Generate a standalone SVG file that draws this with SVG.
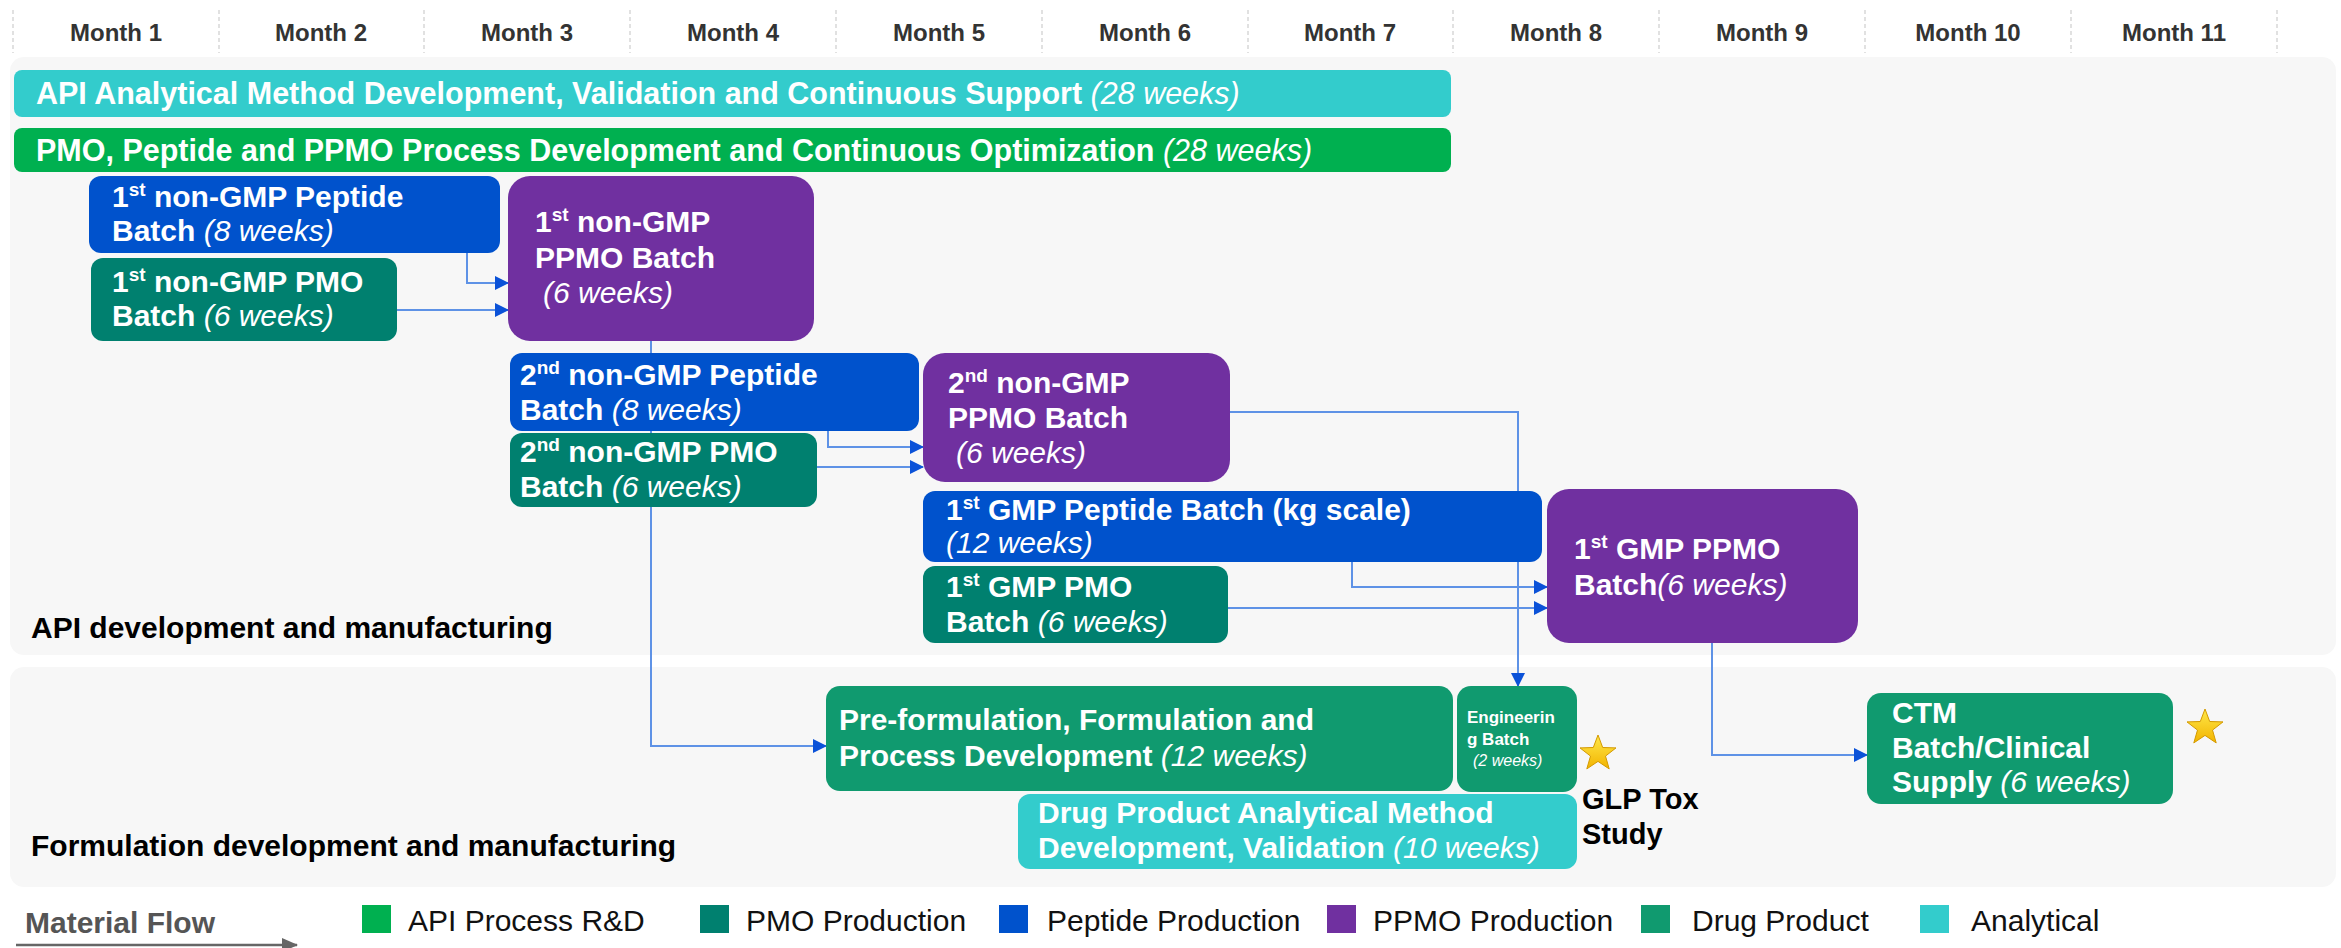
<svg xmlns="http://www.w3.org/2000/svg" width="2341" height="948" viewBox="0 0 2341 948">
<defs>
<style>
text{font-family:"Liberation Sans",Arial,sans-serif;}
.m{font-size:24px;font-weight:bold;fill:#333;text-anchor:middle;}
.sep{stroke:#d8d8d8;stroke-width:1.5;stroke-dasharray:4 3;}
.panel{fill:#f7f7f7;}
.w{fill:#fff;font-size:30px;font-weight:bold;}
.bar{font-size:30.5px;}
.it{font-style:italic;font-weight:normal;}
.sup{font-size:19px;}
.lbl{fill:#000;font-size:30px;font-weight:bold;}
.leg{fill:#111;font-size:30px;}
.pep{fill:#0052CC;}
.pmo{fill:#00806F;}
.ppmo{fill:#7030A0;}
.dp{fill:#109A6F;}
.ana{fill:#33CCCC;}
.rd{fill:#00B050;}
.c{fill:none;stroke:#5E92E6;stroke-width:2;marker-end:url(#ah);}
</style>
<marker id="ah" markerUnits="userSpaceOnUse" markerWidth="14" markerHeight="14" viewBox="0 0 14 14" refX="13" refY="7" orient="auto">
<path d="M0,0 L14,7 L0,14 Z" fill="#0B52D8"/>
</marker>
<marker id="gah" markerUnits="userSpaceOnUse" markerWidth="16" markerHeight="14" viewBox="0 0 16 14" refX="15" refY="7" orient="auto">
<path d="M0,0 L16,7 L0,14 Z" fill="#666"/>
</marker>
<linearGradient id="sg" x1="0" y1="0" x2="0" y2="1">
<stop offset="0" stop-color="#FFE84A"/>
<stop offset="1" stop-color="#F2B400"/>
</linearGradient>
</defs>
<rect width="2341" height="948" fill="#fff"/>

<g id="header">
<line class="sep" x1="13" y1="10" x2="13" y2="53"/>
<line class="sep" x1="219" y1="10" x2="219" y2="53"/>
<line class="sep" x1="424" y1="10" x2="424" y2="53"/>
<line class="sep" x1="630" y1="10" x2="630" y2="53"/>
<line class="sep" x1="836" y1="10" x2="836" y2="53"/>
<line class="sep" x1="1042" y1="10" x2="1042" y2="53"/>
<line class="sep" x1="1248" y1="10" x2="1248" y2="53"/>
<line class="sep" x1="1453" y1="10" x2="1453" y2="53"/>
<line class="sep" x1="1659" y1="10" x2="1659" y2="53"/>
<line class="sep" x1="1865" y1="10" x2="1865" y2="53"/>
<line class="sep" x1="2071" y1="10" x2="2071" y2="53"/>
<line class="sep" x1="2277" y1="10" x2="2277" y2="53"/>
<text class="m" x="116" y="41">Month 1</text>
<text class="m" x="321" y="41">Month 2</text>
<text class="m" x="527" y="41">Month 3</text>
<text class="m" x="733" y="41">Month 4</text>
<text class="m" x="939" y="41">Month 5</text>
<text class="m" x="1145" y="41">Month 6</text>
<text class="m" x="1350" y="41">Month 7</text>
<text class="m" x="1556" y="41">Month 8</text>
<text class="m" x="1762" y="41">Month 9</text>
<text class="m" x="1968" y="41">Month 10</text>
<text class="m" x="2174" y="41">Month 11</text>
</g>

<g id="panels">
<rect class="panel" x="10" y="57" width="2326" height="598" rx="14"/>
<rect class="panel" x="10" y="667" width="2326" height="220" rx="14"/>
<text class="lbl" x="31" y="638">API development and manufacturing</text>
<text class="lbl" x="31" y="856">Formulation development and manufacturing</text>
</g>

<g id="connectors">
<path class="c" d="M467,253 V283 H508"/>
<path class="c" d="M397,310 H508"/>
<path class="c" d="M651,341 V746 H826"/>
<path class="c" d="M828,431 V447 H923"/>
<path class="c" d="M817,467 H923"/>
<path class="c" d="M1230,412 H1518 V686"/>
<path class="c" d="M1352,562 V587 H1547"/>
<path class="c" d="M1228,608 H1547"/>
<path class="c" d="M1712,643 V755 H1867"/>
</g>

<g id="api-analytical">
<rect class="ana" x="14" y="70" width="1437" height="47" rx="8"/>
<text class="w bar" x="36" y="104">API Analytical Method Development, Validation and Continuous Support <tspan class="it">(28 weeks)</tspan></text>
</g>
<g id="process-dev">
<rect class="rd" x="14" y="128" width="1437" height="44" rx="8"/>
<text class="w bar" x="36" y="161">PMO, Peptide and PPMO Process Development and Continuous Optimization <tspan class="it">(28 weeks)</tspan></text>
</g>

<g id="peptide-nongmp-1">
<rect class="pep" x="89" y="176" width="411" height="77" rx="12"/>
<text class="w" x="112" y="207">1<tspan class="sup" dy="-11">st</tspan><tspan dy="11"> non-GMP Peptide</tspan></text>
<text class="w" x="112" y="241">Batch <tspan class="it">(8 weeks)</tspan></text>
</g>
<g id="pmo-nongmp-1">
<rect class="pmo" x="91" y="258" width="306" height="83" rx="12"/>
<text class="w" x="112" y="292">1<tspan class="sup" dy="-11">st</tspan><tspan dy="11"> non-GMP PMO</tspan></text>
<text class="w" x="112" y="326">Batch <tspan class="it">(6 weeks)</tspan></text>
</g>
<g id="ppmo-nongmp-1">
<rect class="ppmo" x="508" y="176" width="306" height="165" rx="22"/>
<text class="w" x="535" y="232">1<tspan class="sup" dy="-11">st</tspan><tspan dy="11"> non-GMP</tspan></text>
<text class="w" x="535" y="268">PPMO Batch</text>
<text class="w it" x="543" y="303">(6 weeks)</text>
</g>

<g id="peptide-nongmp-2">
<rect class="pep" x="510" y="353" width="409" height="78" rx="12"/>
<text class="w" x="520" y="385">2<tspan class="sup" dy="-11">nd</tspan><tspan dy="11"> non-GMP Peptide</tspan></text>
<text class="w" x="520" y="420">Batch <tspan class="it">(8 weeks)</tspan></text>
</g>
<g id="pmo-nongmp-2">
<rect class="pmo" x="510" y="433" width="307" height="74" rx="12"/>
<text class="w" x="520" y="462">2<tspan class="sup" dy="-11">nd</tspan><tspan dy="11"> non-GMP PMO</tspan></text>
<text class="w" x="520" y="497">Batch <tspan class="it">(6 weeks)</tspan></text>
</g>
<g id="ppmo-nongmp-2">
<rect class="ppmo" x="923" y="353" width="307" height="129" rx="22"/>
<text class="w" x="948" y="393">2<tspan class="sup" dy="-11">nd</tspan><tspan dy="11"> non-GMP</tspan></text>
<text class="w" x="948" y="428">PPMO Batch</text>
<text class="w it" x="956" y="463">(6 weeks)</text>
</g>

<g id="peptide-gmp-1">
<rect class="pep" x="923" y="491" width="619" height="71" rx="12"/>
<text class="w" x="946" y="520">1<tspan class="sup" dy="-11">st</tspan><tspan dy="11"> GMP Peptide Batch (kg scale)</tspan></text>
<text class="w it" x="946" y="553">(12 weeks)</text>
</g>
<g id="pmo-gmp-1">
<rect class="pmo" x="923" y="566" width="305" height="77" rx="12"/>
<text class="w" x="946" y="597">1<tspan class="sup" dy="-11">st</tspan><tspan dy="11"> GMP PMO</tspan></text>
<text class="w" x="946" y="632">Batch <tspan class="it">(6 weeks)</tspan></text>
</g>
<g id="ppmo-gmp-1">
<rect class="ppmo" x="1547" y="489" width="311" height="154" rx="22"/>
<text class="w" x="1574" y="559">1<tspan class="sup" dy="-11">st</tspan><tspan dy="11"> GMP PPMO</tspan></text>
<text class="w" x="1574" y="595">Batch<tspan class="it">(6 weeks)</tspan></text>
</g>

<g id="preformulation">
<rect class="dp" x="826" y="686" width="627" height="105" rx="14"/>
<text class="w" x="839" y="730">Pre-formulation, Formulation and</text>
<text class="w" x="839" y="766">Process Development <tspan class="it">(12 weeks)</tspan></text>
</g>
<g id="engineering-batch">
<rect class="dp" x="1457" y="686" width="120" height="106" rx="14"/>
<text class="w" x="1467" y="723" style="font-size:17px">Engineerin</text>
<text class="w" x="1467" y="745" style="font-size:17px">g Batch</text>
<text class="w it" x="1473" y="766" style="font-size:16px">(2 weeks)</text>
</g>
<g id="dp-analytical">
<rect class="ana" x="1018" y="794" width="559" height="75" rx="12"/>
<text class="w" x="1038" y="823">Drug Product Analytical Method</text>
<text class="w" x="1038" y="858">Development, Validation <tspan class="it">(10 weeks)</tspan></text>
</g>
<g id="glp-tox">
<path d="M1598,735 L1602.7,747.5 L1616,747.9 L1605.5,756.1 L1609.2,768.9 L1598,761.4 L1586.8,768.9 L1590.5,756.1 L1580,747.9 L1593.3,747.5 Z" fill="url(#sg)" stroke="#D49A00" stroke-width="1"/>
<text class="lbl" x="1582" y="809" style="font-size:29px">GLP Tox</text>
<text class="lbl" x="1582" y="844" style="font-size:29px">Study</text>
</g>
<g id="ctm">
<rect class="dp" x="1867" y="693" width="306" height="111" rx="14"/>
<text class="w" x="1892" y="723">CTM</text>
<text class="w" x="1892" y="758">Batch/Clinical</text>
<text class="w" x="1892" y="792">Supply <tspan class="it">(6 weeks)</tspan></text>
<path d="M2205,709 L2209.7,721.5 L2223,721.9 L2212.5,730.1 L2216.2,742.9 L2205,735.4 L2193.8,742.9 L2197.5,730.1 L2187,721.9 L2200.3,721.5 Z" fill="url(#sg)" stroke="#D49A00" stroke-width="1"/>
</g>

<g id="legend">
<text x="25" y="933" style="font-size:30px;font-weight:bold;fill:#555">Material Flow</text>
<line x1="16" y1="945" x2="297" y2="945" stroke="#666" stroke-width="2.5" marker-end="url(#gah)"/>
<rect class="rd" x="362" y="905" width="29" height="28"/>
<text class="leg" x="408" y="931">API Process R&amp;D</text>
<rect class="pmo" x="700" y="905" width="29" height="28"/>
<text class="leg" x="746" y="931">PMO Production</text>
<rect class="pep" x="999" y="905" width="29" height="28"/>
<text class="leg" x="1047" y="931">Peptide Production</text>
<rect class="ppmo" x="1327" y="905" width="29" height="28"/>
<text class="leg" x="1373" y="931">PPMO Production</text>
<rect class="dp" x="1641" y="905" width="29" height="28"/>
<text class="leg" x="1692" y="931">Drug Product</text>
<rect class="ana" x="1920" y="905" width="29" height="28"/>
<text class="leg" x="1971" y="931">Analytical</text>
</g>
</svg>
